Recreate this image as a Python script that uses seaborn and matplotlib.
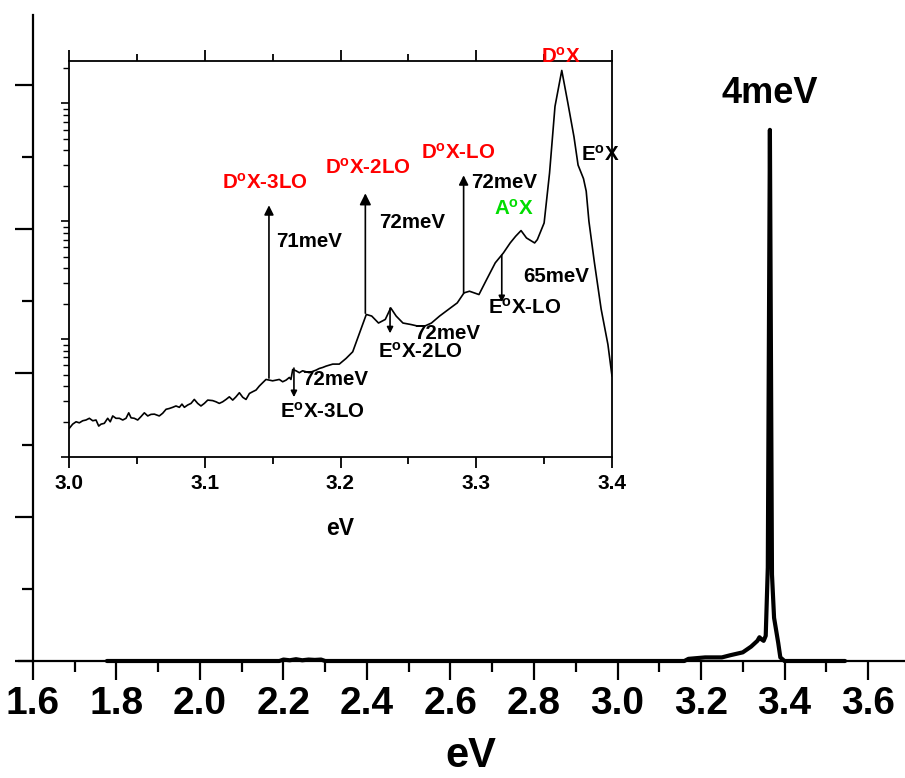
import matplotlib
matplotlib.use("Agg")
import matplotlib.pyplot as plt
import numpy as np
import pandas as pd
import seaborn as sns
from matplotlib.ticker import MultipleLocator, LogLocator, NullFormatter, FormatStrFormatter

sns.set_style("ticks")
plt.rcParams['font.family'] = ['Liberation Sans', 'DejaVu Sans']
plt.rcParams['font.weight'] = 'bold'
plt.rcParams['mathtext.fontset'] = 'custom'
plt.rcParams['mathtext.bf'] = 'Liberation Sans:bold'
plt.rcParams['mathtext.rm'] = 'Liberation Sans:bold'
plt.rcParams['mathtext.it'] = 'Liberation Sans:bold'
for key in ['text.color', 'axes.labelcolor', 'xtick.color', 'ytick.color',
            'axes.edgecolor', 'xtick.labelcolor', 'ytick.labelcolor']:
    plt.rcParams[key] = 'black'

# ---------------- data: main spectrum (linear, arbitrary units) ----------------
main_ev = [1.777, 2.19, 2.20, 2.215, 2.23, 2.245, 2.26, 2.275, 2.29, 2.30,
           3.16, 3.17, 3.21, 3.25, 3.27, 3.30, 3.32, 3.335, 3.34, 3.345,
           3.35, 3.355, 3.36, 3.365, 3.37, 3.375, 3.385, 3.39, 3.40, 3.545]
main_int = [0, 0, 0.02, 0.01, 0.025, 0.01, 0.02, 0.015, 0.02, 0,
            0, 0.03, 0.05, 0.05, 0.08, 0.12, 0.2, 0.28, 0.33, 0.3,
            0.28, 0.35, 1.3, 7.375, 1.2, 0.6, 0.25, 0.05, 0, 0]

# ---------------- data: inset spectrum (log scale) ----------------
inset_ev = [3.0002, 3.0027, 3.0052, 3.0076, 3.0101, 3.0125, 3.0150, 3.0175, 3.0199, 3.0219,
            3.0236, 3.0260, 3.0285, 3.0304, 3.0322, 3.0346, 3.0371, 3.0396, 3.0420, 3.0440,
            3.0457, 3.0481, 3.0506, 3.0530, 3.0555, 3.0580, 3.0604, 3.0629, 3.0665, 3.0690,
            3.0715, 3.0739, 3.0764, 3.0788, 3.0813, 3.0832, 3.0850, 3.0874, 3.0899, 3.0923,
            3.0948, 3.0972, 3.0997, 3.1022, 3.1058, 3.1083, 3.1107, 3.1132, 3.1157, 3.1181,
            3.1206, 3.1230, 3.1255, 3.1280, 3.1304, 3.1329, 3.1353, 3.1378, 3.1402, 3.1451,
            3.1476, 3.1500, 3.1525, 3.1549, 3.1574, 3.1599, 3.1623, 3.1635, 3.1648, 3.1672,
            3.1697, 3.1721, 3.1770, 3.1820, 3.1844, 3.1869, 3.1893, 3.1918, 3.1943, 3.1991,
            3.2041, 3.2090,
            3.215, 3.219, 3.223, 3.228, 3.233, 3.237, 3.241, 3.246, 3.252, 3.257,
            3.262, 3.267, 3.273, 3.281, 3.286, 3.291, 3.295, 3.302, 3.307, 3.314,
            3.320, 3.325, 3.329, 3.333, 3.337, 3.343, 3.345, 3.350, 3.354, 3.358,
            3.363, 3.3675, 3.372, 3.375, 3.379, 3.381, 3.383, 3.387, 3.392, 3.397,
            3.400]
inset_int = [1.75, 1.90, 1.99, 1.95, 2.03, 2.06, 2.13, 2.03, 2.06, 1.83,
             1.90, 1.93, 2.13, 1.99, 2.23, 2.13, 2.13, 2.06, 2.13, 2.37,
             2.15, 2.13, 2.06, 2.20, 2.37, 2.23, 2.30, 2.31, 2.23, 2.35,
             2.54, 2.58, 2.64, 2.71, 2.64, 2.81, 2.64, 2.76, 2.85, 3.08,
             2.85, 2.71, 2.85, 3.04, 3.01, 2.94, 2.85, 2.94, 3.08, 3.24,
             3.04, 3.24, 3.51, 3.21, 3.08, 3.46, 3.58, 3.70, 4.00, 4.55,
             4.49, 4.43, 4.49, 4.55, 4.35, 4.49, 4.73, 4.55, 5.53, 5.39,
             5.19, 5.39, 5.19, 5.46, 5.64, 5.75, 5.90, 6.02, 6.14, 6.14,
             6.86, 7.81,
             12.1, 16.2, 15.7, 13.7, 14.7, 18.4, 15.7, 13.7, 13.3, 12.9,
             12.9, 13.7, 15.7, 18.4, 20.3, 24.7, 25.5, 23.9, 31.0, 44.4,
             53.9, 65.5, 74.6, 83.4, 72.2, 65.5, 69.9, 96.8, 257, 943,
             1905, 1006, 520, 300, 230, 180, 100, 45, 18, 9,
             4.86]

main_xticks = [1.6, 1.8, 2.0, 2.2, 2.4, 2.6, 2.8, 3.0, 3.2, 3.4, 3.6]
inset_xticks = [3.0, 3.1, 3.2, 3.3, 3.4]

# annotations in the inset: text, x (eV), baseline intensity, colour, alignment
ann_text = ['D$^{\\mathbf{o}}$X', 'E$^{\\mathbf{o}}$X', 'D$^{\\mathbf{o}}$X-3LO', 'D$^{\\mathbf{o}}$X-2LO',
            'D$^{\\mathbf{o}}$X-LO', '72meV', 'A$^{\\mathbf{o}}$X', '72meV', '71meV', '65meV',
            'E$^{\\mathbf{o}}$X-LO', '72meV', 'E$^{\\mathbf{o}}$X-2LO', '72meV', 'E$^{\\mathbf{o}}$X-3LO']
ann_x = [3.3621, 3.3772, 3.1444, 3.2203, 3.2866, 3.3204, 3.3278, 3.2527, 3.1768, 3.3587,
         3.3359, 3.2785, 3.2586, 3.1959, 3.1864]
ann_y = [2225, 329, 190.5, 255, 342, 190.5, 114.6, 87.2, 60.2, 30.4,
         16.3, 10.0, 6.90, 4.08, 2.14]
ann_color = ['#ff0000', 'black', '#ff0000', '#ff0000', '#ff0000', 'black', '#00dd00', 'black',
             'black', 'black', 'black', 'black', 'black', 'black', 'black']
ann_ha = ['center', 'left'] + ['center'] * 13

# arrows: x, start intensity, tip intensity
arrow_x = [3.1473, 3.2183, 3.2907, 3.3188, 3.2365, 3.1657]
arrow_from = [4.67, 16.6, 24.5, 51.5, 18.3, 5.68]
arrow_to = [136.7, 172.7, 245.5, 20.6, 11.2, 3.22]
arrow_scale = [14, 17, 14, 9, 9, 9]

# ---------------- figure ----------------
W, H = 905, 778
fig = plt.figure(figsize=(W / 100, H / 100), dpi=100)

ax = fig.add_axes([19 / W, (H - 661) / H, 886 / W, (661 - 15) / H])
main_df = pd.DataFrame({'eV': main_ev, 'I': main_int})
sns.lineplot(data=main_df, x='eV', y='I', ax=ax, color='black', lw=3.0, sort=False)
for ln in ax.lines:
    ln.set_clip_on(False)
    ln.set_zorder(3)
ax.set_xlim(1.5665, 3.6886)
ax.set_ylim(0, 8.97)
for s in ['top', 'right']:
    ax.spines[s].set_visible(False)
ax.spines['left'].set_position(('data', 1.6))
ax.spines['left'].set_linewidth(1.6)
ax.spines['bottom'].set_linewidth(1.6)
ax.set_xticks(main_xticks)
ax.xaxis.set_major_formatter(FormatStrFormatter('%.1f'))
ax.xaxis.set_minor_locator(MultipleLocator(0.1))
ax.yaxis.set_major_locator(MultipleLocator(2))
ax.yaxis.set_minor_locator(MultipleLocator(1))
ax.set_yticklabels([])
ax.tick_params(axis='x', which='major', direction='out', length=14, width=1.6,
               labelsize=28, pad=4)
ax.tick_params(axis='x', which='minor', direction='out', length=8, width=1.6)
ax.tick_params(axis='y', which='major', direction='out', length=13, width=1.6, labelleft=False)
ax.tick_params(axis='y', which='minor', direction='out', length=8, width=1.6)
for lab in ax.get_xticklabels():
    lab.set_fontweight('bold')
ax.set_xlabel('eV', fontsize=30, fontweight='bold')
ax.xaxis.label.set_va('baseline')
ax.xaxis.set_label_coords((471 - 19) / 886, -(767 - 661) / 646)
ax.set_ylabel('')
ax.text(3.365, 7.75, '4meV', fontsize=26, fontweight='bold', ha='center', va='baseline')

# ---------------- inset ----------------
axin = fig.add_axes([69 / W, (H - 457) / H, 543 / W, 396 / H])
inset_df = pd.DataFrame({'eV': inset_ev, 'I': inset_int})
sns.lineplot(data=inset_df, x='eV', y='I', ax=axin, color='black', lw=1.2, sort=False)
axin.set_yscale('log')
axin.set_xlim(3.0, 3.4)
axin.set_ylim(1, 10 ** 3.36)
for s in axin.spines.values():
    s.set_linewidth(1.3)
    s.set_visible(True)
    s.set_color('black')
axin.set_xticks(inset_xticks)
axin.xaxis.set_major_formatter(FormatStrFormatter('%.1f'))
axin.xaxis.set_minor_locator(MultipleLocator(0.05))
axin.yaxis.set_major_locator(LogLocator(base=10, numticks=10))
axin.yaxis.set_minor_locator(LogLocator(base=10, subs=np.arange(2, 10), numticks=20))
axin.yaxis.set_major_formatter(NullFormatter())
axin.yaxis.set_minor_formatter(NullFormatter())
axin.tick_params(axis='x', which='major', direction='out', length=8, width=1.3,
                 top=True, bottom=True, labelsize=15, pad=4)
axin.tick_params(axis='x', which='minor', direction='out', length=5, width=1.3,
                 top=True, bottom=True)
axin.tick_params(axis='y', which='major', direction='out', length=6, width=1.2,
                 left=True, right=False)
axin.tick_params(axis='y', which='minor', direction='out', length=4, width=1.0,
                 left=True, right=False)
for lab in axin.get_xticklabels():
    lab.set_fontweight('bold')
axin.set_xlabel('eV', fontsize=16.5, fontweight='bold')
axin.xaxis.label.set_va('baseline')
axin.xaxis.set_label_coords(0.5, -(535 - 457) / 396)
axin.set_ylabel('')

for t, x, y, c, ha in zip(ann_text, ann_x, ann_y, ann_color, ann_ha):
    axin.text(x, y, t, color=c, fontsize=14.8, fontweight='bold', ha=ha, va='baseline',
              clip_on=False)

for x, y0, y1, ms in zip(arrow_x, arrow_from, arrow_to, arrow_scale):
    axin.annotate('', xy=(x, y1), xytext=(x, y0),
                  arrowprops=dict(arrowstyle='-|>', color='black', lw=1.2,
                                  mutation_scale=ms, shrinkA=0, shrinkB=0))

fig.savefig('out.png', dpi=100)
